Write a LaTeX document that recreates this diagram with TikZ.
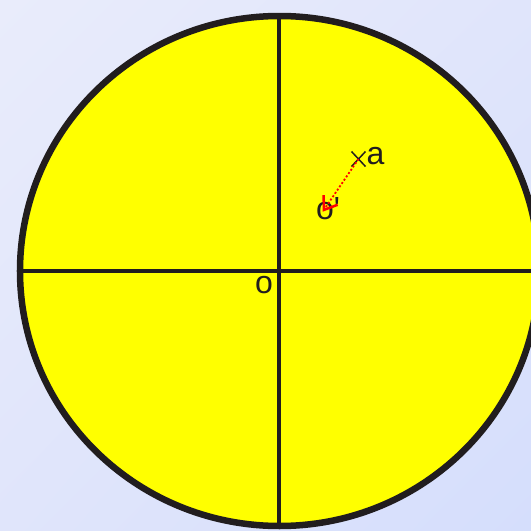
\documentclass[tikz,border=0pt]{standalone}
\usepackage{fontspec}
\setmainfont{Liberation Sans}
\usetikzlibrary{arrows.meta,shadings}

\definecolor{bgA}{RGB}{233,236,251}
\definecolor{bgB}{RGB}{224,229,251}
\definecolor{bgC}{RGB}{213,222,252}
\definecolor{rim}{RGB}{33,29,30}
\definecolor{disc}{RGB}{255,255,0}

\begin{document}
\begin{tikzpicture}[x=1pt, y=1pt,
    rim line/.style={draw=rim, line width=6.5pt},
    axis line/.style={draw=rim, line width=4pt},
    lbl/.style={font=\fontsize{32}{38}\selectfont, text=rim, inner sep=0pt}]
    % background
    \shade[upper left=bgA, upper right=bgB, lower left=bgB, lower right=bgC]
        (-279.5,-260) rectangle (251.5,271);
    \useasboundingbox (-279.5,-260) rectangle (251.5,271);

    % the disc
    \filldraw[fill=disc, rim line] (0,0) ellipse [x radius=259.5, y radius=255];

    % cross through o
    \coordinate (o) at (0,0);
    \coordinate (top) at (0,255);
    \coordinate (bot) at (0,-255);
    \coordinate (left) at (-259.5,0);
    \coordinate (right) at (259.5,0);
    \draw[axis line] (top) -- (bot);
    \draw[axis line] (left) -- (right);
    \node[lbl] (olbl) at (-15.5,-14.5) {o};

    % point a and its image o'
    \coordinate (a) at (79,112);
    \coordinate (o') at (43.2,59.3);
    \draw[rim, line width=1.5pt] (a) ++(-7,-7.5) -- ++(14,15) (a) ++(-7,7.5) -- ++(14,-15);
    \node[lbl] (albl) at (96,114.5) {a};
    \node[lbl, anchor=base west] (oplbl) at (36.5,52) {o\textquotesingle};
    \draw[red, line width=1.8pt, dash pattern=on 2pt off 2pt,
          -{Straight Barb[length=12pt, width=17pt, line width=2.5pt]}] (a) -- (o');
\end{tikzpicture}
\end{document}
